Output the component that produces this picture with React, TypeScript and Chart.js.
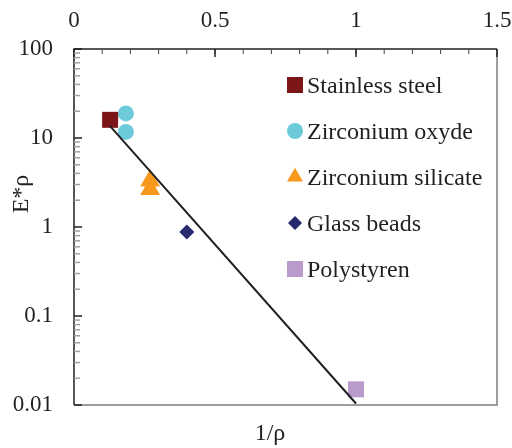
import React, { useEffect, useRef } from 'react';
import { Chart, registerables } from 'chart.js';

Chart.register(...registerables);

// ---- data ----
const seriesNames = ['Stainless steel', 'Zirconium oxyde', 'Zirconium silicate', 'Glass beads', 'Polystyren'];
const seriesColors = ['#7D1619', '#6DCADB', '#F8991D', '#27286E', '#B89BCB'];
const seriesStyles = ['rect', 'circle', 'triangle', 'rectRot', 'rect'];
const seriesRadii = [11.3, 8, 11.5, 7.5, 11.3];

const steelX = [0.128];
const steelY = [16];
const oxideX = [0.184, 0.184];
const oxideY = [18.9, 11.7];
const silicateX = [0.27, 0.27];
const silicateY = [3.3, 2.65];
const glassX = [0.4];
const glassY = [0.88];
const polyX = [1.0];
const polyY = [0.015];

const fitX = [0.128, 1.0];
const fitY = [13.6, 0.0104];

const xTicks = [0, 0.5, 1, 1.5];
const xTickLabels = ['0', '0.5', '1', '1.5'];
const yTicks = [0.01, 0.1, 1, 10, 100];
const yTickLabels = ['0.01', '0.1', '1', '10', '100'];
const xTitle = '1/ρ';
const yTitle = 'E*ρ';

const allX = [steelX, oxideX, silicateX, glassX, polyX];
const allY = [steelY, oxideY, silicateY, glassY, polyY];

const FONT = "'Liberation Serif', 'Times New Roman', serif";
const TEXT = '#231F20';

function drawMarker(ctx: CanvasRenderingContext2D, style: string, x: number, y: number, h: number, color: string) {
  ctx.save();
  ctx.fillStyle = color;
  ctx.beginPath();
  if (style === 'rect') {
    ctx.rect(x - h, y - h, 2 * h, 2 * h);
  } else if (style === 'circle') {
    ctx.arc(x, y, h, 0, Math.PI * 2);
  } else if (style === 'triangle') {
    const r = h / Math.sin(Math.PI / 3);
    ctx.moveTo(x, y - r);
    ctx.lineTo(x + h, y + r / 2);
    ctx.lineTo(x - h, y + r / 2);
    ctx.closePath();
  } else if (style === 'rectRot') {
    ctx.moveTo(x, y - h);
    ctx.lineTo(x + h, y);
    ctx.lineTo(x, y + h);
    ctx.lineTo(x - h, y);
    ctx.closePath();
  }
  ctx.fill();
  ctx.restore();
}

const decorPlugin = {
  id: 'decor',
  afterDatasetsDraw(chart: any) {
    const ctx: CanvasRenderingContext2D = chart.ctx;
    const { left, right, top, bottom } = chart.chartArea;
    const xs = chart.scales.x;
    const ys = chart.scales.y;
    ctx.save();
    // gray right & bottom frame
    ctx.strokeStyle = '#7f7f7f';
    ctx.lineWidth = 1.5;
    ctx.beginPath();
    ctx.moveTo(right, top);
    ctx.lineTo(right, bottom);
    ctx.lineTo(left, bottom);
    ctx.stroke();
    // black top & left axes
    ctx.strokeStyle = '#231F20';
    ctx.lineWidth = 1.5;
    ctx.beginPath();
    ctx.moveTo(right, top);
    ctx.lineTo(left, top);
    ctx.lineTo(left, bottom);
    ctx.stroke();
    // top x minor ticks
    ctx.lineWidth = 1;
    ctx.strokeStyle = '#444';
    for (let i = 1; i < 15; i++) {
      const px = xs.getPixelForValue(i / 10);
      ctx.beginPath();
      ctx.moveTo(px, top);
      ctx.lineTo(px, top + 5);
      ctx.stroke();
    }
    // top x major ticks
    ctx.lineWidth = 1.5;
    ctx.strokeStyle = '#231F20';
    xTicks.forEach((v) => {
      const px = xs.getPixelForValue(v);
      ctx.beginPath();
      ctx.moveTo(px, top);
      ctx.lineTo(px, top + 8);
      ctx.stroke();
    });
    // y minor ticks
    ctx.strokeStyle = '#a0a0a0';
    ctx.lineWidth = 1.5;
    for (let d = 0; d < yTicks.length - 1; d++) {
      for (let k = 2; k <= 9; k++) {
        const py = ys.getPixelForValue(yTicks[d] * k);
        ctx.beginPath();
        ctx.moveTo(left, py);
        ctx.lineTo(left + 6, py);
        ctx.stroke();
      }
    }
    // y major ticks
    ctx.strokeStyle = '#231F20';
    yTicks.forEach((v) => {
      const py = ys.getPixelForValue(v);
      ctx.beginPath();
      ctx.moveTo(left, py);
      ctx.lineTo(left + 8, py);
      ctx.stroke();
    });
    ctx.restore();
  },
  afterDraw(chart: any) {
    const ctx: CanvasRenderingContext2D = chart.ctx;
    ctx.save();
    ctx.fillStyle = TEXT;
    ctx.font = `24px ${FONT}`;
    // x title
    ctx.textAlign = 'center';
    ctx.textBaseline = 'alphabetic';
    ctx.fillText(xTitle, 270, 440);
    // y title
    ctx.save();
    ctx.translate(28, 194);
    ctx.rotate(-Math.PI / 2);
    ctx.fillText(yTitle, 0, 0);
    ctx.restore();
    // legend
    const legendHalf = [8, 8, 8, 7, 8];
    seriesNames.forEach((name, i) => {
      const cy = 85 + i * 46;
      drawMarker(ctx, seriesStyles[i], 295, cy, legendHalf[i], seriesColors[i]);
      ctx.fillStyle = TEXT;
      ctx.textAlign = 'left';
      ctx.textBaseline = 'alphabetic';
      ctx.fillText(name, 307, cy + 8.3);
    });
    ctx.restore();
  },
};

export default function App() {
  const ref = useRef<HTMLCanvasElement | null>(null);
  useEffect(() => {
    if (!ref.current) return;
    const fitData = fitX.map((x, i) => ({ x, y: fitY[i] }));
    const pointSets = seriesNames.map((name, i) => ({
      label: name,
      data: allX[i].map((x, j) => ({ x, y: allY[i][j] })),
      pointStyle: seriesStyles[i],
      pointRadius: seriesRadii[i],
      pointBackgroundColor: seriesColors[i],
      pointBorderColor: seriesColors[i],
      pointBorderWidth: 0,
      showLine: false,
    }));
    const chart = new Chart(ref.current, {
      type: 'scatter',
      data: {
        datasets: [
          {
            label: 'fit',
            data: fitData,
            showLine: true,
            borderColor: '#231F20',
            borderWidth: 2,
            pointRadius: 0,
            fill: false,
          } as any,
          ...pointSets,
        ],
      },
      options: {
        animation: false,
        responsive: true,
        maintainAspectRatio: false,
        events: [],
        layout: { padding: { left: 0, right: 15, top: 0, bottom: 0 } },
        plugins: { legend: { display: false }, tooltip: { enabled: false } },
        scales: {
          x: {
            type: 'linear',
            position: 'top',
            min: 0,
            max: 1.5,
            grid: { display: false, drawTicks: false },
            border: { display: false },
            ticks: {
              autoSkip: false,
              maxRotation: 0,
              padding: 14,
              color: TEXT,
              font: { family: FONT, size: 23 },
              callback: (_v: any, i: number) => xTickLabels[i],
            },
            afterBuildTicks: (s: any) => {
              s.ticks = xTicks.map((v) => ({ value: v }));
            },
            afterFit: (s: any) => {
              s.height = 49;
              s.paddingLeft = 0;
              s.paddingRight = 0;
            },
          },
          x2: {
            type: 'linear',
            position: 'bottom',
            min: 0,
            max: 1.5,
            grid: { display: false, drawTicks: false },
            border: { display: false },
            ticks: { display: false },
            afterFit: (s: any) => {
              s.height = 43;
              s.paddingLeft = 0;
              s.paddingRight = 0;
            },
          },
          y: {
            type: 'logarithmic',
            position: 'left',
            min: 0.01,
            max: 100,
            grid: { display: false, drawTicks: false },
            border: { display: false },
            ticks: {
              autoSkip: false,
              padding: 21,
              color: TEXT,
              font: { family: FONT, size: 23 },
              callback: (_v: any, i: number) => yTickLabels[i],
            },
            afterBuildTicks: (s: any) => {
              s.ticks = yTicks.map((v) => ({ value: v }));
            },
            afterFit: (s: any) => {
              s.width = 74;
            },
          },
        },
      } as any,
      plugins: [decorPlugin],
    });
    return () => chart.destroy();
  }, []);
  return (
    <div style={{ position: 'absolute', left: 0, top: 0, width: 512, height: 448, background: '#fff' }}>
      <canvas ref={ref} />
    </div>
  );
}
